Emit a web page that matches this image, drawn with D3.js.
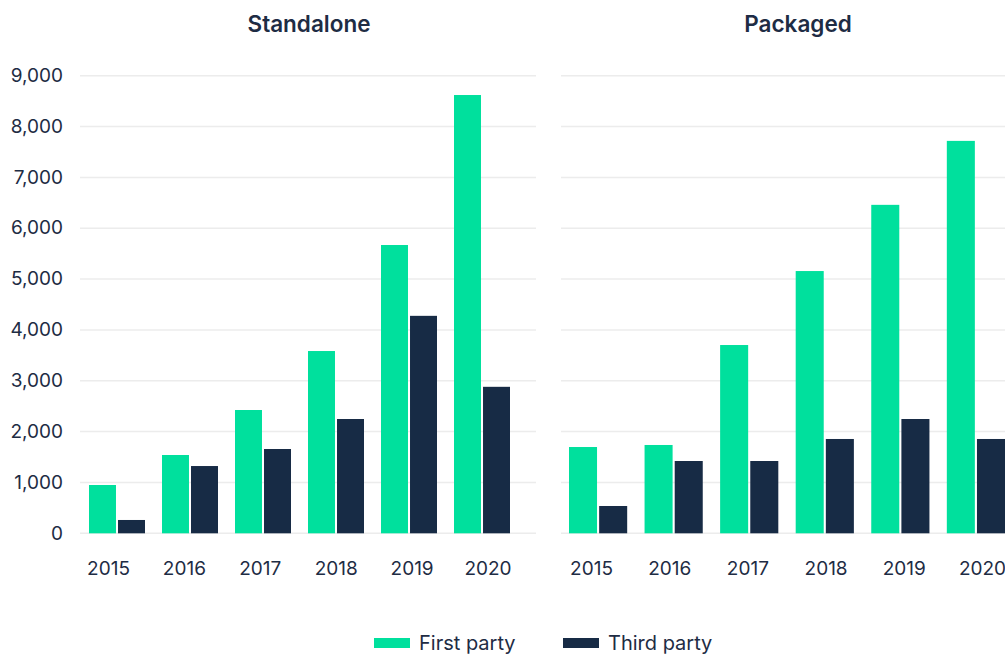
<!DOCTYPE html>
<html>
<head>
<meta charset="utf-8">
<script src="https://cdn.jsdelivr.net/npm/d3@7"></script>
<style>
  html, body { margin: 0; padding: 0; background: #fff; }
  svg { display: block; font-family: Inter, "Noto Sans", sans-serif; }
</style>
</head>
<body>
<svg id="chart" width="1005" height="654"></svg>
<script>
const years = ["2015", "2016", "2017", "2018", "2019", "2020"];
const panelTitles = ["Standalone", "Packaged"];
const seriesNames = ["First party", "Third party"];
const standaloneFirst = [950, 1540, 2425, 3585, 5670, 8620];
const standaloneThird = [262, 1323, 1658, 2248, 4277, 2881];
const packagedFirst = [1697, 1737, 3703, 5158, 6460, 7718];
const packagedThird = [537, 1422, 1422, 1855, 2248, 1855];
const yTicks = [0, 1000, 2000, 3000, 4000, 5000, 6000, 7000, 8000, 9000];

const colors = ["#00E09D", "#172B45"];
const textColor = "#1E2C44";

const svg = d3.select("#chart");
const y = d3.scaleLinear().domain([0, 9000]).range([533.3, 75.7]);

const panels = [
  { title: panelTitles[0], first: standaloneFirst, third: standaloneThird,
    grid: [80, 536], bars: [89, 510], pad: 0.233, labels: [108, 487.5], titleX: 309 },
  { title: panelTitles[1], first: packagedFirst, third: packagedThird,
    grid: [561, 1005], bars: [569, 1005], pad: 0.23, labels: [591, 982], titleX: 798 }
];

// y tick labels
const yAxis = svg.append("g").attr("transform", "translate(63,0)")
  .call(d3.axisLeft(y).tickValues(yTicks).tickSize(0).tickPadding(0).tickFormat(d3.format(",")));
yAxis.select(".domain").remove();
yAxis.selectAll("text")
  .attr("fill", textColor).attr("font-size", 19).attr("font-family", "Inter, sans-serif")
  .attr("dy", "0.3em").attr("text-anchor", "end");

panels.forEach(p => {
  const g = svg.append("g");
  // gridlines
  g.selectAll("line.grid").data(yTicks).enter().append("line")
    .attr("x1", p.grid[0]).attr("x2", p.grid[1])
    .attr("y1", d => y(d)).attr("y2", d => y(d))
    .attr("stroke", "#ECECEC").attr("stroke-width", 1.5);

  const x0 = d3.scaleBand().domain(years).range(p.bars).paddingInner(p.pad).paddingOuter(0);
  const x1 = d3.scaleBand().domain(seriesNames).range([0, x0.bandwidth()]).paddingInner(0.07);

  const rows = years.map((yr, i) => ({ year: yr, vals: [p.first[i], p.third[i]] }));
  const grp = g.selectAll("g.year").data(rows).enter().append("g")
    .attr("transform", d => `translate(${x0(d.year)},0)`);
  grp.selectAll("rect").data(d => d.vals.map((v, k) => ({ v, k }))).enter().append("rect")
    .attr("x", d => x1(seriesNames[d.k]))
    .attr("width", x1.bandwidth())
    .attr("y", d => y(d.v))
    .attr("height", d => y(0) - y(d.v))
    .attr("fill", d => colors[d.k]);

  // x labels
  const xl = d3.scalePoint().domain(years).range(p.labels);
  const xAxis = g.append("g").attr("transform", "translate(0,575)")
    .call(d3.axisBottom(xl).tickSize(0).tickPadding(0));
  xAxis.select(".domain").remove();
  xAxis.selectAll("text").attr("fill", textColor).attr("font-size", 19)
    .attr("font-family", "Inter, sans-serif").attr("dy", 0).attr("y", 0);

  g.append("text").attr("x", p.titleX).attr("y", 32)
    .attr("text-anchor", "middle").attr("font-size", 22.5).attr("font-weight", 600)
    .attr("fill", textColor).text(p.title);
});

// legend
const legendX = [374, 563];
seriesNames.forEach((s, k) => {
  svg.append("rect").attr("x", legendX[k]).attr("y", 638).attr("width", 36).attr("height", 10)
    .attr("fill", colors[k]);
  svg.append("text").attr("x", legendX[k] + 45).attr("y", 650)
    .attr("font-size", 20).attr("fill", textColor).text(s);
});
</script>
</body>
</html>
